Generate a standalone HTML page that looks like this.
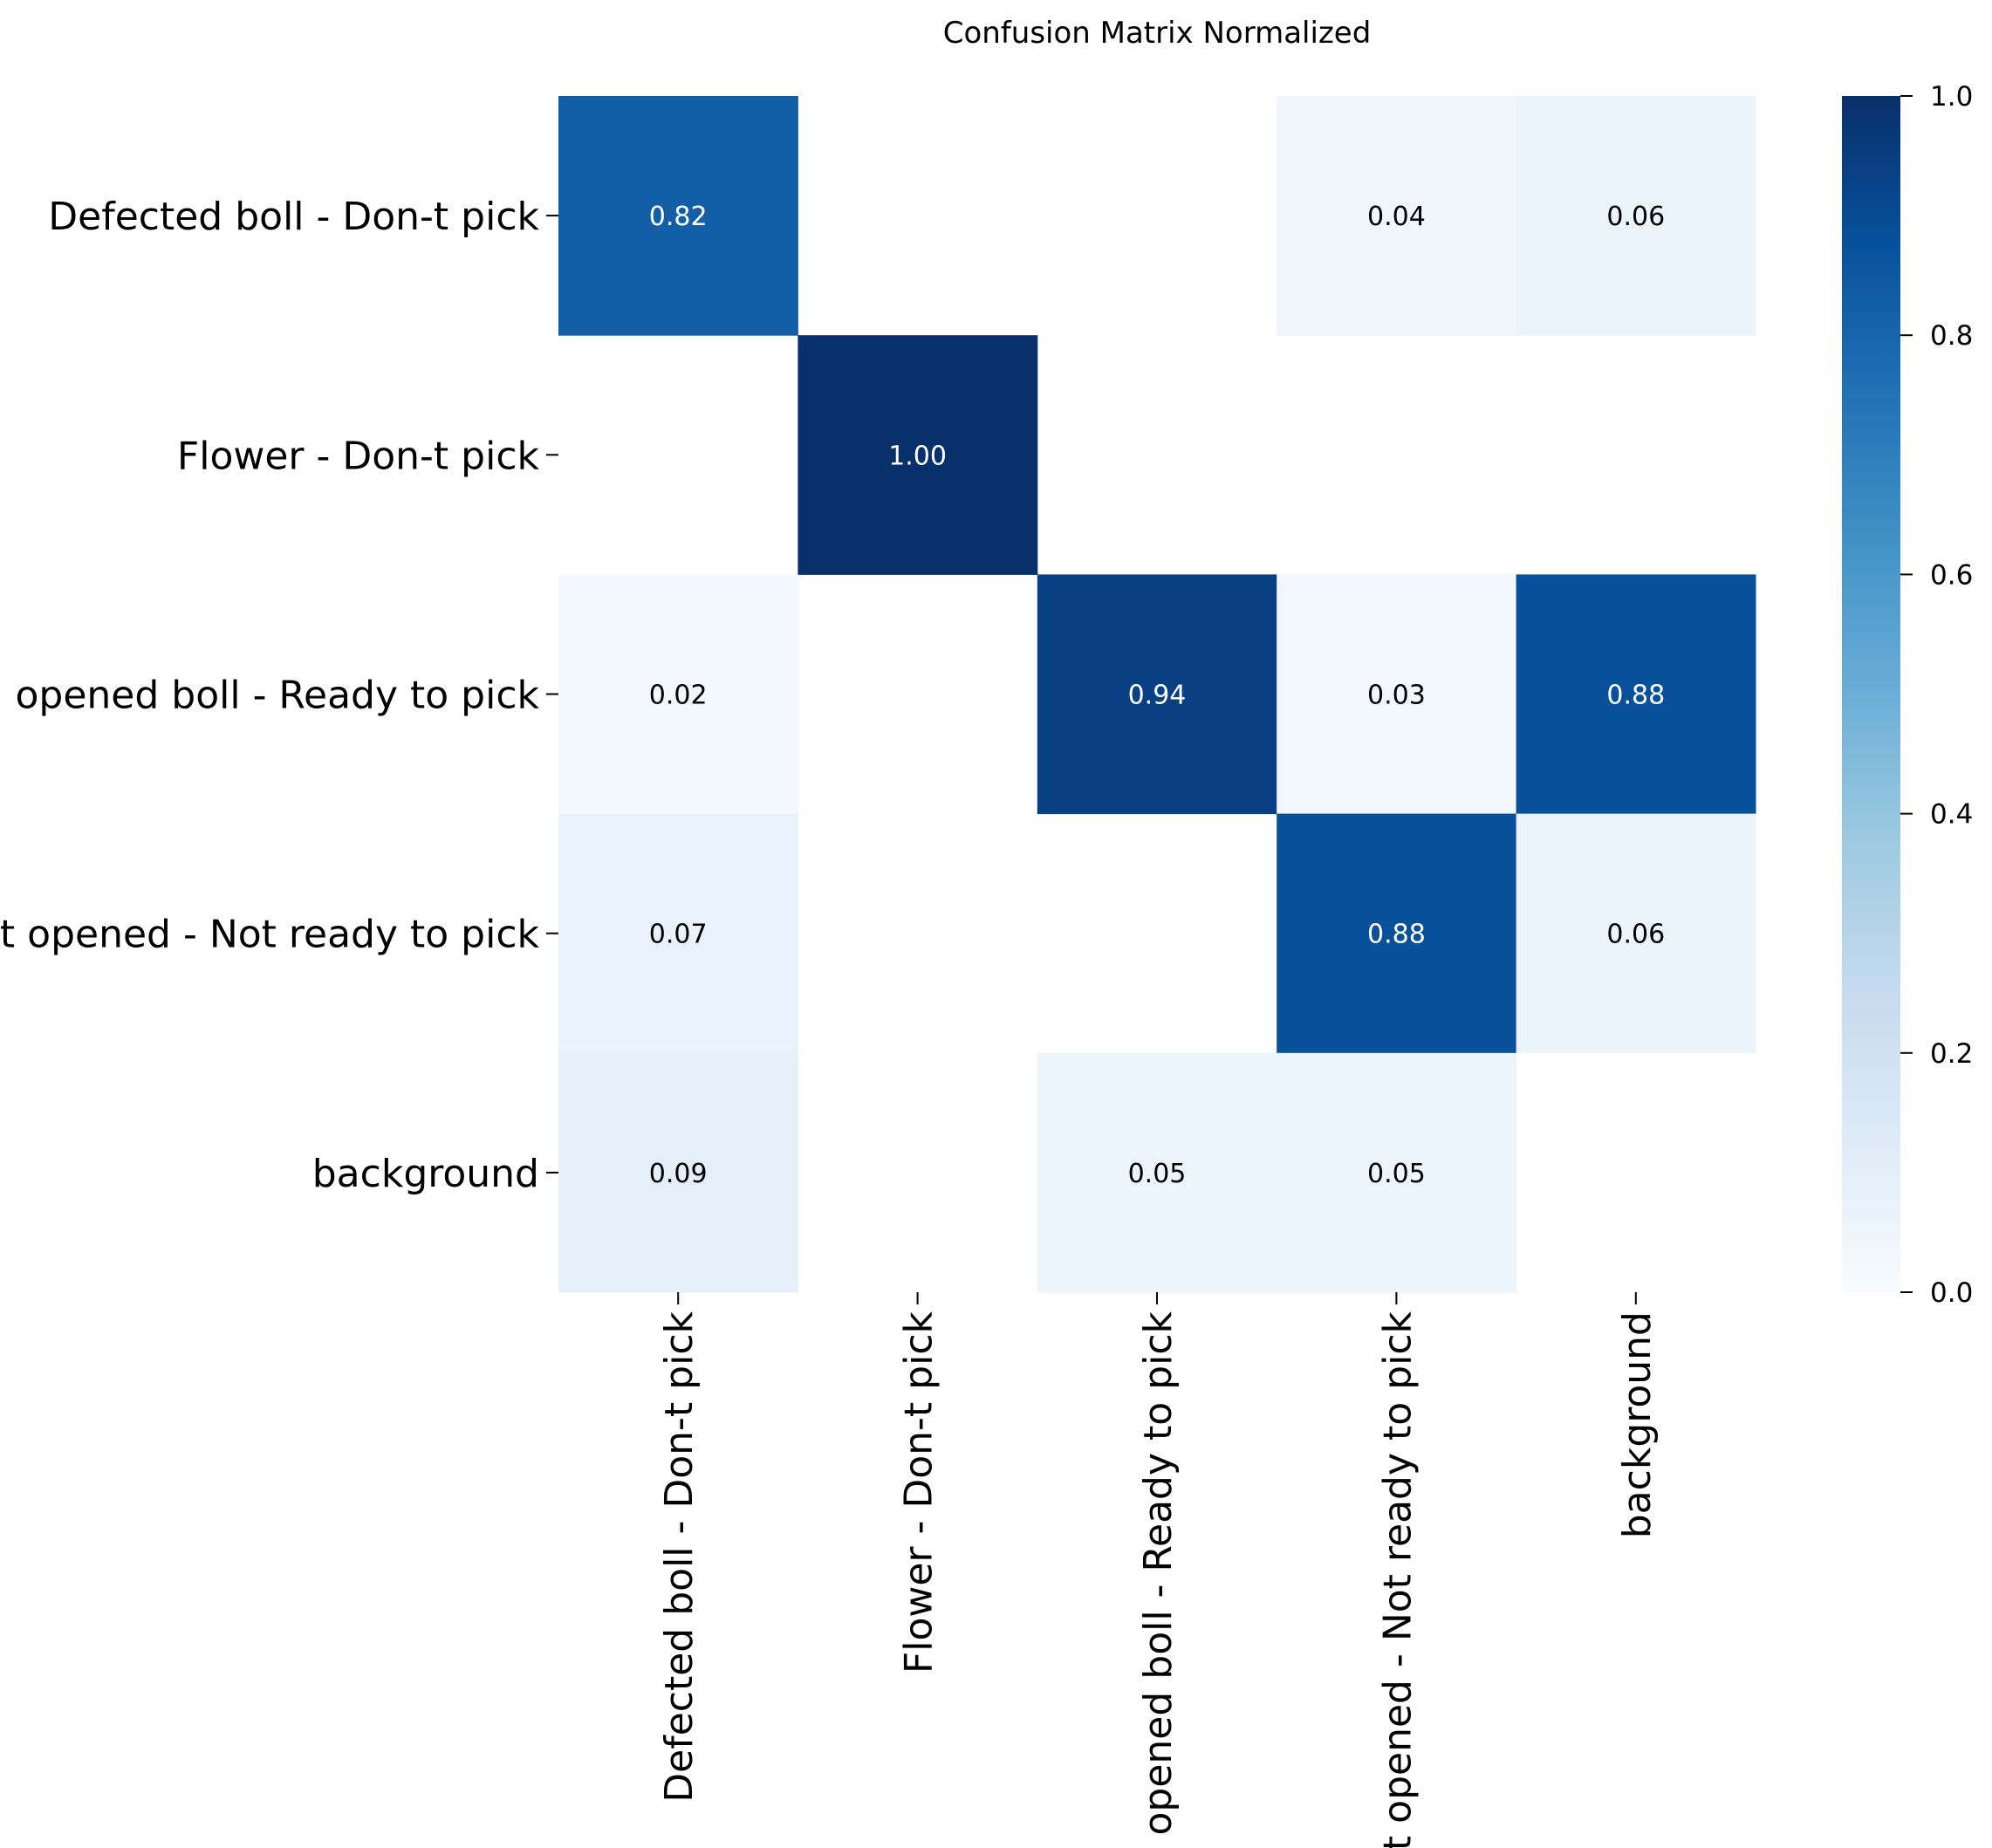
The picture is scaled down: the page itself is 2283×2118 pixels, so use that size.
<!DOCTYPE html>
<html><head><meta charset="utf-8"><style>
html,body{margin:0;padding:0;background:#fff;}
svg{display:block;font-family:"DejaVu Sans","Liberation Sans",sans-serif;}
</style></head><body>
<svg id="chart" width="2283" height="2118" viewBox="0 0 2283 2118" xmlns="http://www.w3.org/2000/svg">
<defs>
<linearGradient id="cbgrad" x1="0" y1="1" x2="0" y2="0">
<stop offset="0" stop-color="#f7fbff"/><stop offset="0.125" stop-color="#deebf7"/><stop offset="0.25" stop-color="#c6dbef"/><stop offset="0.375" stop-color="#9ecae1"/><stop offset="0.5" stop-color="#6baed6"/><stop offset="0.625" stop-color="#4292c6"/><stop offset="0.75" stop-color="#2171b5"/><stop offset="0.875" stop-color="#08519c"/><stop offset="1" stop-color="#08306b"/>
</linearGradient>
</defs>
<text x="1326" y="49" font-size="34" text-anchor="middle">Confusion Matrix Normalized</text>
<g id="cells"></g>
<g id="yticks"></g>
<g id="xticks"></g>
<rect x="2111" y="110" width="67" height="1371" fill="url(#cbgrad)"/>
<g id="cbticks"></g>
</svg>
<script>
const rowLabels = ["Defected boll - Don-t pick","Flower - Don-t pick","opened boll - Ready to pick","Not opened - Not ready to pick","background"];
const colLabels = ["Defected boll - Don-t pick","Flower - Don-t pick","opened boll - Ready to pick","Not opened - Not ready to pick","background"];
const row0 = [0.82,0,0,0.04,0.06];
const row1 = [0,1.00,0,0,0];
const row2 = [0.02,0,0.94,0.03,0.88];
const row3 = [0.07,0,0,0.88,0.06];
const row4 = [0.09,0,0.05,0.05,0];
const cbTicks = [0,0.2,0.4,0.6,0.8,1.0];

const matrix=[row0,row1,row2,row3,row4];
const NS="http://www.w3.org/2000/svg";
const X0=640,Y0=110,W=1372,H=1371;
const cw=W/colLabels.length, ch=H/rowLabels.length;
const xPos=j=>X0+j*cw, yPos=i=>Y0+i*ch;
const stops=[[247,251,255],[222,235,247],[198,219,239],[158,202,225],[107,174,214],[66,146,198],[33,113,181],[8,81,156],[8,48,107]];
function blues(v){v=Math.max(0,Math.min(1,v));const t=v*8,k=Math.min(7,Math.floor(t)),f=t-k;
const a=stops[k],b=stops[k+1];return `rgb(${a.map((c,i)=>Math.round(c+(b[i]-c)*f)).join(',')})`;}
function mk(tag,attrs,parent){const e=document.createElementNS(NS,tag);for(const k in attrs)e.setAttribute(k,attrs[k]);parent.appendChild(e);return e;}
const cells=document.getElementById('cells');
matrix.forEach((row,i)=>row.forEach((v,j)=>{
 if(v<=0)return;
 const r=mk('rect',{x:xPos(j),y:yPos(i),width:cw+0.5,height:ch+0.5,fill:blues(v)},cells);
 
 
 const t=mk('text',{x:xPos(j)+cw/2,y:yPos(i)+ch/2+11,'font-size':30,'text-anchor':'middle',fill:v>0.5?'#fff':'#000'},cells);
 
 
 t.textContent=v.toFixed(2);
}));
const yt=document.getElementById('yticks');
rowLabels.forEach((l,i)=>{const y=yPos(i)+ch/2;
 mk('line',{x1:X0-14,x2:X0,y1:y,y2:y,stroke:'#000','stroke-width':2},yt);
 const t=mk('text',{x:X0-22,y:y+16,'font-size':44,'text-anchor':'end'},yt);
 
 
 t.textContent=l;});
const xt=document.getElementById('xticks');
colLabels.forEach((l,j)=>{const x=xPos(j)+cw/2,yb=Y0+H;
 mk('line',{x1:x,x2:x,y1:yb,y2:yb+14,stroke:'#000','stroke-width':2},xt);
 const t=mk('text',{x:0,y:0,'font-size':44,'text-anchor':'end',transform:`translate(${x+16},${yb+22}) rotate(-90)`},xt);
 
 
 t.textContent=l;});
const cb=document.getElementById('cbticks');
cbTicks.forEach(v=>{const y=110+1371*(1-v);
 mk('line',{x1:2178,x2:2192,y1:y,y2:y,stroke:'#000','stroke-width':2},cb);
 const t=mk('text',{x:2212,y:y+11,'font-size':31},cb);
 
 
 t.textContent=v.toFixed(1);});
</script>
</body></html>
